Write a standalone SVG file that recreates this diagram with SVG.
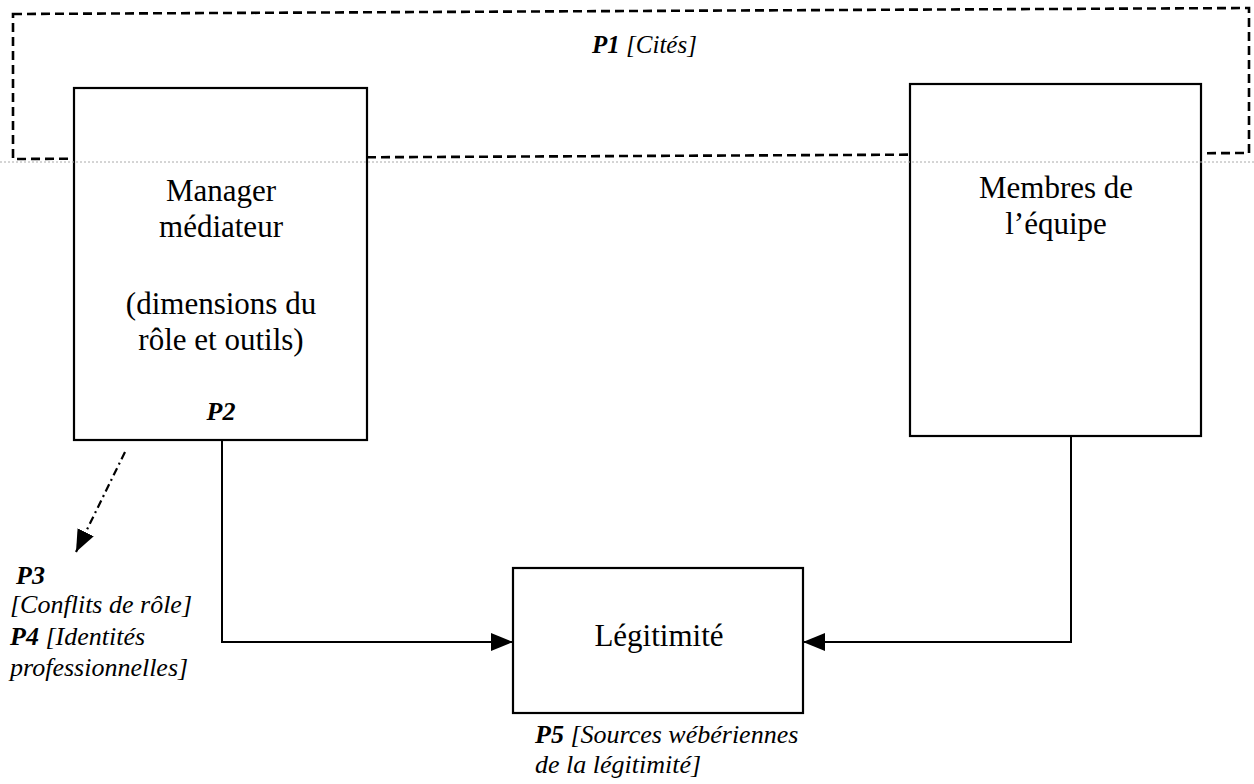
<svg xmlns="http://www.w3.org/2000/svg" width="1254" height="784" viewBox="0 0 1254 784">
<style>
.box{fill:#fff;stroke:#000;stroke-width:2.2}
.t{font-family:"Liberation Serif","Times New Roman",serif;fill:#000}
.big{font-size:31px;text-anchor:middle}
.it{font-size:26px;font-style:italic}
.bi{font-weight:bold;font-style:italic}
.con{fill:none;stroke:#000;stroke-width:2}
</style>
<defs>
<marker id="ah" viewBox="0 0 22 20" refX="22" refY="10" markerWidth="22" markerHeight="20" markerUnits="userSpaceOnUse" orient="auto">
<path d="M0,1 L22,10 L0,19 Z" fill="#000"/>
</marker>
</defs>
<rect width="1254" height="784" fill="#fff"/>
<g id="p1-frame">
<polygon points="13,14 1249,8 1249,153 13,159" fill="none" stroke="#000" stroke-width="2.6" stroke-dasharray="9 5"/>
<text class="t" x="592" y="53" font-size="25"><tspan class="bi">P1</tspan><tspan font-style="italic"> [Cités]</tspan></text>
</g>
<g id="manager">
<rect class="box" x="74" y="88" width="293" height="352"/>
<text class="t big" x="221" y="201">Manager</text>
<text class="t big" x="221" y="237">médiateur</text>
<text class="t big" x="221" y="314">(dimensions du</text>
<text class="t big" x="221" y="350">rôle et outils)</text>
<text class="t bi" x="221" y="420" font-size="26" text-anchor="middle">P2</text>
</g>
<g id="membres">
<rect class="box" x="910" y="84" width="291" height="352"/>
<text class="t big" x="1056" y="198">Membres de</text>
<text class="t big" x="1056" y="234">l’équipe</text>
</g>
<g id="legitimite">
<rect class="box" x="513" y="568" width="290" height="145"/>
<text class="t big" x="659" y="646" font-size="33">Légitimité</text>
</g>
<g id="p3p4">
<text class="t it" x="16" y="584"><tspan class="bi">P3</tspan></text>
<text class="t it" x="10" y="613">[Conflits de rôle]</text>
<text class="t it" x="10" y="645"><tspan class="bi">P4</tspan> [Identités</text>
<text class="t it" x="10" y="676">professionnelles]</text>
</g>
<g id="p5">
<text class="t it" x="535" y="743"><tspan class="bi">P5</tspan> [Sources wébériennes</text>
<text class="t it" x="535" y="773">de la légitimité]</text>
</g>
<g id="connectors">
<polyline class="con" points="222,440 222,642 513,642" marker-end="url(#ah)"/>
<polyline class="con" points="1071,436 1071,642 803,642" marker-end="url(#ah)"/>
<line x1="125" y1="452" x2="76" y2="552" stroke="#000" stroke-width="2.2" stroke-dasharray="8 4 2 4" marker-end="url(#ah)"/>
</g>
<line x1="0" y1="162" x2="1254" y2="162" stroke="#aaa" stroke-width="1" stroke-dasharray="2 2"/>
</svg>
